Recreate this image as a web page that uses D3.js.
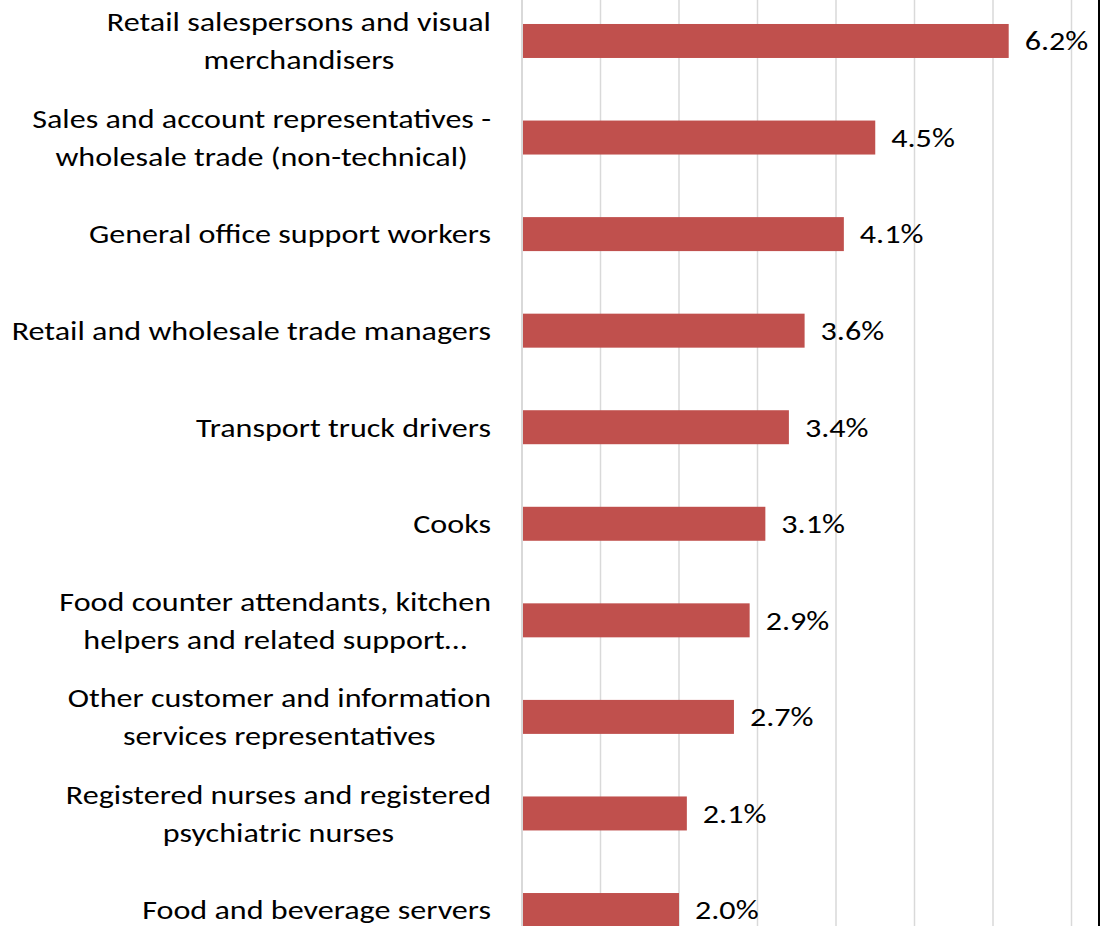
<!DOCTYPE html>
<html>
<head>
<meta charset="utf-8">
<script src="https://cdn.jsdelivr.net/npm/d3@7"></script>
<style>
  html, body { margin: 0; padding: 0; background: #ffffff; }
  svg { display: block; }
  text { font-family: Carlito, Lato, "Open Sans", "Liberation Sans", sans-serif; fill: #000000; }
</style>
</head>
<body>
<svg id="chart" width="1105" height="926"></svg>
<script>
// Occupations (line breaks mark how each label wraps)
const categories = [
  "Retail salespersons and visual\nmerchandisers",
  "Sales and account representatives -\nwholesale trade (non-technical)",
  "General office support workers",
  "Retail and wholesale trade managers",
  "Transport truck drivers",
  "Cooks",
  "Food counter attendants, kitchen\nhelpers and related support…",
  "Other customer and information\nservices representatives",
  "Registered nurses and registered\npsychiatric nurses",
  "Food and beverage servers"
];
// Share of employment, percent
const values = [6.2, 4.5, 4.1, 3.6, 3.4, 3.1, 2.9, 2.7, 2.1, 2.0];
const gridTicks = [0, 1, 2, 3, 4, 5, 6, 7];

const svg = d3.select("#chart");
const W = 1105, H = 926;
const fontSize = 26;
const stretch = 1.235;   // wide lettering
const lineGap = 38;

const x = d3.scaleLinear().domain([0, 7]).range([522, 1071.5]);
const y = d3.scaleBand()
  .domain(categories)
  .range([-7.3, 958.3])
  .paddingInner(0.648)
  .paddingOuter(0.324);

// Vertical gridlines
svg.append("g")
  .selectAll("line")
  .data(gridTicks)
  .join("line")
  .attr("x1", d => x(d)).attr("x2", d => x(d))
  .attr("y1", 0).attr("y2", H)
  .attr("stroke", "#d9d9d9")
  .attr("stroke-width", d => d === 0 ? 2 : 1.5);

// Bars
svg.append("g")
  .selectAll("rect")
  .data(values)
  .join("rect")
  .attr("x", x(0) + 1)
  .attr("y", (d, i) => y(categories[i]))
  .attr("width", d => x(d) - x(0) - 1)
  .attr("height", y.bandwidth())
  .attr("fill", "#c0504d");

// Value labels
svg.append("g")
  .selectAll("text")
  .data(values)
  .join("text")
  .attr("transform", (d, i) =>
    `translate(${x(d) + 16},${y(categories[i]) + y.bandwidth() / 2}) scale(${stretch},1)`)
  .attr("dy", "0.36em")
  .attr("font-size", fontSize)
  .text(d => d.toFixed(1) + "%");

// Category labels: block right-aligned, wrapped lines centred on each other
const labelRight = 491;
const labels = svg.append("g");
categories.forEach((c, i) => {
  const lines = c.split("\n");
  const cy = y(c) + y.bandwidth() / 2;
  const g = labels.append("g")
    .attr("transform", `translate(${labelRight},${cy}) scale(${stretch},1)`);
  const texts = lines.map((ln, k) => g.append("text")
    .attr("font-size", fontSize)
    .attr("y", (k - (lines.length - 1) / 2) * lineGap)
    .attr("dy", "0.36em")
    .text(ln));
  const maxW = d3.max(texts, t => t.node().getComputedTextLength());
  texts.forEach(t => t.attr("text-anchor", "middle").attr("x", -maxW / 2));
});

// Right frame edge
svg.append("line")
  .attr("x1", 1099).attr("x2", 1099)
  .attr("y1", 0).attr("y2", H)
  .attr("stroke", "#000000")
  .attr("stroke-width", 2);
</script>
</body>
</html>
